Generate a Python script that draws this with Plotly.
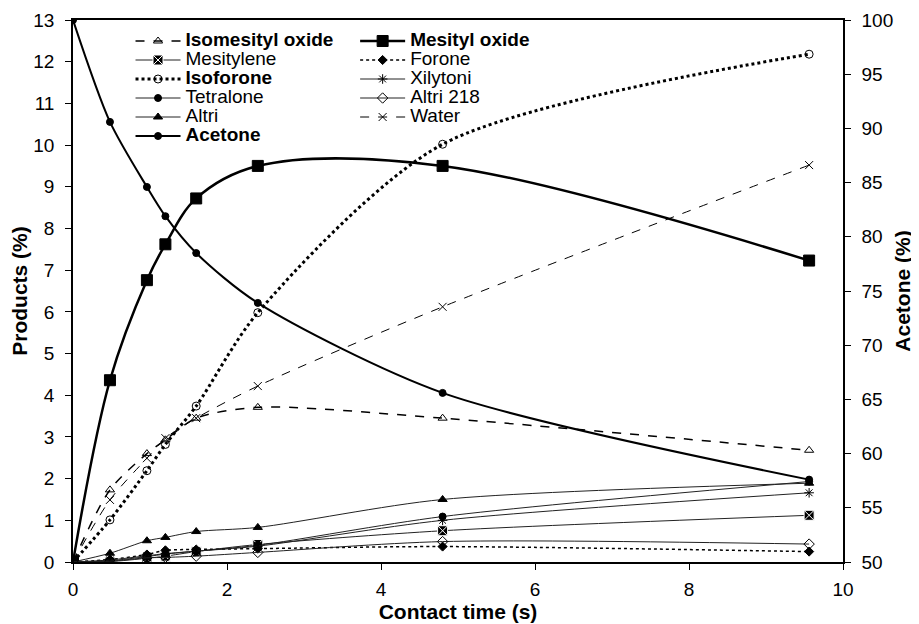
import plotly.graph_objects as go

x = [0, 0.48, 0.96, 1.2, 1.6, 2.4, 4.8, 9.56]

isomesityl_oxide = [0, 1.73, 2.60, 2.93, 3.45, 3.71, 3.45, 2.68]
mesityl_oxide = [0, 4.36, 6.76, 7.62, 8.72, 9.50, 9.50, 7.23]
mesitylene = [0, 0.01, 0.09, 0.14, 0.25, 0.42, 0.75, 1.12]
forone = [0, 0.06, 0.18, 0.28, 0.30, 0.32, 0.37, 0.25]
isoforone = [0, 1.01, 2.19, 2.82, 3.74, 5.98, 10.02, 12.18]
xilytoni = [0, 0.05, 0.15, 0.20, 0.26, 0.38, 1.00, 1.66]
tetralone = [0, 0.03, 0.13, 0.19, 0.26, 0.40, 1.09, 1.93]
altri_218 = [0, 0.02, 0.10, 0.11, 0.14, 0.23, 0.49, 0.43]
altri = [0, 0.21, 0.51, 0.59, 0.73, 0.83, 1.50, 1.89]
water = [0, 1.49, 2.49, 2.97, 3.45, 4.22, 6.12, 9.52]
acetone = [100, 90.6, 84.6, 81.9, 78.5, 73.9, 65.6, 57.6]

X_RANGE = [0, 10]
Y_RANGE = [0, 13]
Y2_RANGE = [50, 100]

FONT = "Liberation Sans, Arial, sans-serif"
LEG_TXT = 19


def lab(t, bold=False):
    inner = f"<b>{t}</b>" if bold else t
    return f'<span style="font-size:{LEG_TXT}px">{inner}</span>'


fig = go.Figure()


def add(name, y, dash, width, symbol, size, legend, bold=False, yaxis="y",
        mcolor="black", mline="black", mlw=1, smoothing=0.8, lcolor="black"):
    fig.add_trace(go.Scatter(
        x=x, y=y, name=lab(name, bold), mode="lines+markers", yaxis=yaxis,
        line=dict(color=lcolor, width=width, dash=dash, shape="spline", smoothing=smoothing),
        marker=dict(symbol=symbol, size=size, color=mcolor,
                    line=dict(color=mline, width=mlw)),
        legend=legend,
    ))


# column 1
add("Isomesityl oxide", isomesityl_oxide, "dash", 1.5, "triangle-up-open", 8, "legend", bold=True)
add("Mesitylene", mesitylene, "solid", 1, "square-x", 10, "legend", mcolor="black", mline="white", mlw=1, lcolor="#222")
add("Isoforone", isoforone, "dot", 3, "circle-open", 8, "legend", bold=True)
add("Tetralone", tetralone, "solid", 1, "circle", 7, "legend", lcolor="#222")
add("Altri", altri, "solid", 1, "triangle-up", 8, "legend", lcolor="#222")
add("Acetone", acetone, "solid", 2, "circle", 7, "legend", bold=True, yaxis="y2")
# column 2
add("Mesityl oxide", mesityl_oxide, "solid", 2.5, "square", 11, "legend2", bold=True, smoothing=1.0)
add("Forone", forone, "dot", 1.5, "diamond", 7, "legend2")
add("Xilytoni", xilytoni, "solid", 1, "asterisk-open", 8, "legend2", lcolor="#222")
add("Altri 218", altri_218, "solid", 1, "diamond-open", 8, "legend2", lcolor="#222")
add("Water", water, "dash", 1, "x-thin-open", 8, "legend2")

axis_common = dict(
    showline=True, linecolor="black", linewidth=1.5,
    ticks="outside", ticklen=6, tickcolor="black", tickwidth=1,
    showgrid=False, zeroline=False, automargin=False,
    tickfont=dict(family=FONT, size=19, color="black"),
)

# inner half of the crossing tick marks
inner_ticks = dict(
    showline=False, ticks="inside", ticklen=6, tickcolor="black", tickwidth=1,
    showticklabels=False, showgrid=False, zeroline=False, automargin=False,
    fixedrange=True,
)

TITLE_FONT = dict(family=FONT, size=21, color="black")

leg_common = dict(
    font=dict(family=FONT, size=12, color="black"),
    bgcolor="rgba(0,0,0,0)", borderwidth=0,
    itemwidth=45, tracegroupgap=0,
    xanchor="left", yanchor="top", itemclick=False,
)

fig.update_layout(
    width=911, height=616,
    margin=dict(l=65, r=76, t=12, b=62),
    paper_bgcolor="white", plot_bgcolor="white",
    font=dict(family=FONT, size=19, color="black"),
    xaxis=dict(range=X_RANGE, dtick=2, mirror=True, ticklabelstandoff=3,
               title=dict(text="<b>Contact time (s)</b>", standoff=2, font=TITLE_FONT),
               **axis_common),
    yaxis=dict(range=Y_RANGE, dtick=1, ticklabelstandoff=7,
               title=dict(text="<b>Products (%)</b>", standoff=0, font=TITLE_FONT),
               **axis_common),
    yaxis2=dict(range=Y2_RANGE, dtick=5, overlaying="y", side="right", ticklabelstandoff=7,
                title=dict(text="<b>Acetone (%)</b>", standoff=3, font=TITLE_FONT),
                **axis_common),
    xaxis2=dict(range=X_RANGE, dtick=2, overlaying="x", anchor="y", side="bottom", **inner_ticks),
    yaxis3=dict(range=Y_RANGE, dtick=1, overlaying="y", anchor="x", side="left", **inner_ticks),
    yaxis4=dict(range=Y2_RANGE, dtick=5, overlaying="y", anchor="x", side="right", **inner_ticks),
    legend=dict(x=0.0747, y=0.988, **leg_common),
    legend2=dict(x=0.3664, y=0.988, **leg_common),
    showlegend=True,
)

fig.write_html("out.html")
